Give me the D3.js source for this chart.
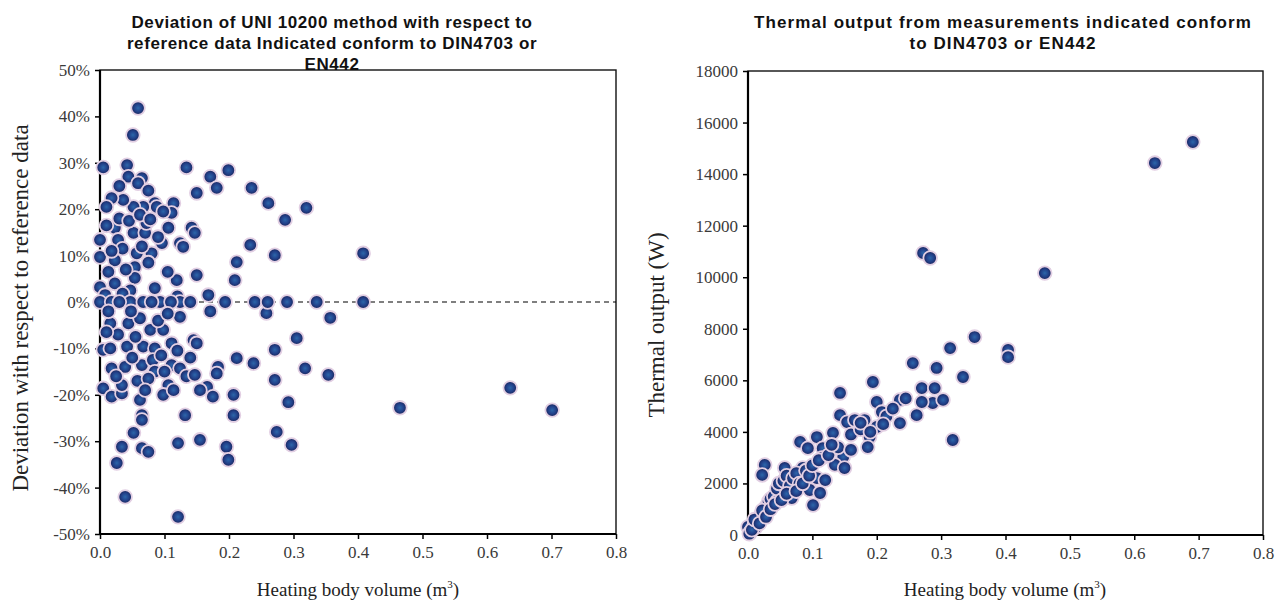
<!DOCTYPE html>
<html>
<head>
<meta charset="utf-8">
<script src="https://cdn.jsdelivr.net/npm/d3@7"></script>
<style>
  html, body { margin: 0; padding: 0; background: #ffffff; }
  svg { display: block; }
  .tick text { font-family: 'Liberation Serif', 'Times New Roman', serif; }
</style>
</head>
<body>
<svg id="chart" width="1282" height="613"></svg>
<script>
// ---- Left panel: deviation of UNI 10200 method vs. heating body volume ----
const devVolume = [
  0.059,0.051,0.005,0.042,0.044,0.065,0.059,0.134,0.199,0.171,0.181,0.150,0.235,0.261,0.320,0.287,
  0.233,0.271,0.408,0.212,0.209,0.150,0.119,0.142,0.147,0.124,0.129,0.106,0.096,0.085,0.088,0.114,
  0.111,0.067,0.052,0.036,0.018,0.010,0.023,0.000,0.028,0.052,0.070,0.072,0.057,0.080,0.000,0.023,
  0.013,0.054,0.054,0.000,0.023,0.168,0.171,0.258,0.357,
  0.030,0.045,0.062,0.078,0.098,0.035,0.065,0.090,0.040,0.075,0.010,0.018,0.047,0.085,0.105,0.030,
  0.075,0.008,0.035,0.120,
  0.000,0.018,0.047,0.067,0.093,0.124,0.140,0.194,0.240,0.260,0.290,0.336,0.408,0.030,0.080,0.110,
  0.016,0.044,0.062,0.078,0.098,0.124,0.005,0.016,0.042,0.067,0.085,0.111,0.145,0.150,0.018,0.039,
  0.065,0.082,0.085,0.111,0.124,0.134,0.147,0.005,0.018,0.034,0.034,0.106,0.098,0.114,0.166,0.175,
  0.183,0.181,0.207,0.207,0.212,0.238,0.271,0.305,0.271,0.318,0.354,0.292,0.274,0.297,0.196,0.199,
  0.132,0.155,0.121,0.062,0.065,0.065,0.052,0.034,0.065,0.075,0.026,0.039,0.121,0.465,0.636,0.701,
  0.028,0.055,0.090,0.010,0.050,0.095,0.025,0.058,0.075,0.120,0.100,0.048,0.105,0.070,0.140,0.155,0.013
];
const deviation = [
  41.8,36,29,29.5,27,26.7,25.6,29,28.4,27,24.6,23.5,24.6,21.3,20.3,17.7,
  12.3,10.1,10.5,8.6,4.7,5.8,4.7,16,14.9,12.7,11.9,16,12.7,21.3,20.5,21.3,
  19.2,20.5,20.5,22,22.4,20.5,16,13.4,13.4,14.9,14.9,17,10.5,10.5,9.7,9,
  6.5,7.5,5.2,3.2,4,1.5,-2,-2.4,-3.4,
  18,17.5,18.8,17.8,19.5,11.5,12,14,7,8.5,16.5,11,2.5,3,6.5,25,
  24,1.5,1.8,1.2,
  0,0,0,0,0,0,0,0,0,0,0,0,0,0,0,0,
  -4.6,-4.6,-3.5,-6,-6,-3.2,-10.3,-10,-9.6,-9.6,-10,-8.9,-8.2,-8.9,-14.3,-14,
  -13.6,-12.5,-15,-13.6,-14.3,-16,-15.7,-18.6,-20.4,-19.7,-17.9,-17.9,-20,-19,-18.3,-20.4,
  -14,-15.4,-20,-24.4,-12.1,-13.2,-10.3,-7.8,-16.8,-14.3,-15.7,-21.6,-28,-30.8,-31.2,-34,
  -24.4,-29.7,-30.4,-21.1,-24.4,-25.4,-28.2,-31.2,-31.5,-32.3,-34.7,-42,-46.3,-22.8,-18.5,-23.3,
  -7,-7.5,-4,-6.5,-12,-11.5,-16,-17,-16.5,-10.5,-15,-2,-2.5,-19,-12,-19,-2
];
const devTicks = [50,40,30,20,10,0,-10,-20,-30,-40,-50];
const devTickLabels = ["50%","40%","30%","20%","10%","0%","-10%","-20%","-30%","-40%","-50%"];

// ---- Right panel: measured thermal output vs. heating body volume ----
const outVolume = [
  0.691,0.632,0.272,0.283,0.461,0.256,0.293,0.314,0.352,0.404,0.404,0.334,0.194,0.270,0.290,0.143,
  0.236,0.200,0.287,0.270,0.303,0.208,0.262,0.236,0.143,0.154,0.166,0.181,0.200,0.318,0.132,0.107,
  0.081,0.093,0.116,0.189,0.186,0.148,0.115,0.135,0.150,0.085,0.057,0.026,0.022,0.107,0.120,0.061,
  0.050,0.096,0.112,0.039,0.101,0.068,0.014,0.000,
  0.005,0.008,0.010,0.012,0.015,0.018,0.020,0.025,0.028,0.030,0.032,0.035,0.040,0.045,0.045,0.048,
  0.055,0.060,0.065,0.070,0.075,0.080,0.090,0.003,0.002,0.006,0.010,0.018,0.022,0.028,0.035,0.042,
  0.052,0.060,0.075,0.085,0.095,0.100,0.110,0.125,0.140,0.160,0.175,0.215,0.225,0.245,0.175,0.130,
  0.160,0.190,0.210
];
const thermalOutput = [
  15245,14430,10940,10745,10160,6670,6480,7250,7680,7180,6900,6130,5935,5700,5700,5510,
  5240,5160,5120,5160,5240,4770,4650,4340,4650,4380,4460,4460,4190,3685,3960,3800,
  3610,3370,3370,3800,3410,3030,2990,2720,2600,2600,2600,2720,2330,2210,2130,1940,
  1630,1745,1630,1160,1160,1435,580,310,
  150,250,400,300,500,700,800,900,1100,1000,1300,1400,1500,1300,1800,2000,
  2100,2300,1900,2200,2400,2000,2500,80,50,200,600,450,950,700,1000,1200,
  1350,1600,1700,2000,2300,2700,2900,3100,3400,3900,4100,4600,4900,5300,4350,3500,
  3300,4000,4300
];
const outTicks = [0,2000,4000,6000,8000,10000,12000,14000,16000,18000];
const outTickLabels = ["0","2000","4000","6000","8000","10000","12000","14000","16000","18000"];

const volumeTicks = [0,0.1,0.2,0.3,0.4,0.5,0.6,0.7,0.8];
const volumeTickLabels = ["0.0","0.1","0.2","0.3","0.4","0.5","0.6","0.7","0.8"];

const svg = d3.select("#chart");
const serif = "'Liberation Serif', 'Times New Roman', serif";
const sans = "'Liberation Sans', Arial, sans-serif";

// Marker fill: navy sphere-like gradient
const defs = svg.append("defs");
const grad = defs.append("radialGradient").attr("id", "dot")
  .attr("cx", "50%").attr("cy", "50%").attr("r", "50%");
grad.append("stop").attr("offset", "0%").attr("stop-color", "#2c66aa");
grad.append("stop").attr("offset", "55%").attr("stop-color", "#22418a");
grad.append("stop").attr("offset", "100%").attr("stop-color", "#1b2457");

function panel(opts) {
  const g = svg.append("g");
  const x = d3.scaleLinear().domain([0, 0.8]).range([opts.left, opts.right]);
  const y = d3.scaleLinear().domain(opts.yDomain).range([opts.bottom, opts.top]);

  // y axis
  const yAxis = d3.axisLeft(y)
    .tickValues(opts.yTicks)
    .tickFormat((d, i) => opts.yLabels[i])
    .tickSize(5).tickSizeOuter(0).tickPadding(5);
  const ya = g.append("g").attr("transform", `translate(${opts.left},0)`).call(yAxis)
    .attr("font-family", serif).attr("font-size", 17);
  ya.select(".domain").remove();
  ya.selectAll("line").attr("stroke", "#000").attr("stroke-width", 1.5);
  ya.selectAll("text").style("font-family", serif).style("font-size", "17px").attr("fill", "#3a3a3a");

  // x axis
  const xAxis = d3.axisBottom(x)
    .tickValues(volumeTicks)
    .tickFormat((d, i) => volumeTickLabels[i])
    .tickSize(5).tickSizeOuter(0).tickPadding(7);
  const xa = g.append("g").attr("transform", `translate(0,${opts.bottom})`).call(xAxis)
    .attr("font-family", serif).attr("font-size", 17);
  xa.select(".domain").remove();
  xa.selectAll("line").attr("stroke", "#000").attr("stroke-width", 1.5);
  xa.selectAll("text").style("font-family", serif).style("font-size", "17px").attr("fill", "#3a3a3a");

  // plot frame
  g.append("rect")
    .attr("x", opts.left).attr("y", opts.top)
    .attr("width", opts.right - opts.left).attr("height", opts.bottom - opts.top)
    .attr("fill", "none").attr("stroke", "#111").attr("stroke-width", 1.4);
  g.append("line").attr("x1", opts.left).attr("x2", opts.left)
    .attr("y1", opts.top).attr("y2", opts.bottom).attr("stroke", "#000").attr("stroke-width", 2.2);
  g.append("line").attr("x1", opts.left).attr("x2", opts.right)
    .attr("y1", opts.bottom).attr("y2", opts.bottom).attr("stroke", "#000").attr("stroke-width", 2.2);

  if (opts.zeroLine) {
    g.append("line")
      .attr("x1", opts.left).attr("x2", opts.right)
      .attr("y1", y(0)).attr("y2", y(0))
      .attr("stroke", "#000").attr("stroke-width", 1.1).attr("stroke-dasharray", "5,4");
  }

  // points
  const pts = opts.xs.map((v, i) => [v, opts.ys[i]]);
  g.append("g").selectAll("circle").data(pts).join("circle")
    .attr("cx", d => x(d[0])).attr("cy", d => y(d[1]))
    .attr("r", 6.8)
    .attr("fill", "url(#dot)")
    .attr("stroke", "#e2cfe3").attr("stroke-width", 1.8);

  // title
  const t = g.append("text").attr("font-family", sans).attr("font-weight", "bold")
    .attr("font-size", 17).attr("fill", "#111").attr("text-anchor", "middle")
    .attr("letter-spacing", opts.titleSpacing);
  opts.title.forEach((line, i) => {
    t.append("tspan").attr("x", opts.titleX).attr("y", opts.titleY + i * 21).text(line);
  });

  // axis titles
  const xt = g.append("text").attr("font-family", serif).attr("font-size", 19).attr("fill", "#222")
    .attr("text-anchor", "middle").attr("x", opts.xTitleX).attr("y", 596);
  xt.append("tspan").text("Heating body volume (m");
  xt.append("tspan").attr("font-size", 11).attr("dy", -8).text("3");
  xt.append("tspan").attr("dy", 8).text(")");

  g.append("text").attr("font-family", serif).attr("font-size", opts.yTitleSize).attr("fill", "#222")
    .attr("text-anchor", "middle")
    .attr("transform", `translate(${opts.yTitleX},${opts.yTitleY}) rotate(-90)`)
    .text(opts.yTitle);
}

panel({
  left: 100, right: 616, top: 70, bottom: 534,
  yDomain: [-50, 50], yTicks: devTicks, yLabels: devTickLabels,
  xs: devVolume, ys: deviation, zeroLine: true,
  title: ["Deviation of UNI 10200 method with respect to",
          "reference data Indicated conform to DIN4703 or",
          "EN442"],
  titleX: 332, titleY: 28, titleSpacing: 0.6,
  xTitleX: 358, yTitleX: 28, yTitleY: 308, yTitleSize: 23,
  yTitle: "Deviation with respect to reference data"
});

panel({
  left: 748, right: 1263, top: 71, bottom: 535,
  yDomain: [0, 18000], yTicks: outTicks, yLabels: outTickLabels,
  xs: outVolume, ys: thermalOutput, zeroLine: false,
  title: ["Thermal output from measurements indicated conform",
          "to DIN4703 or EN442"],
  titleX: 1003, titleY: 28, titleSpacing: 1.1,
  xTitleX: 1005, yTitleX: 664, yTitleY: 325, yTitleSize: 23,
  yTitle: "Thermal output (W)"
});
</script>
</body>
</html>
